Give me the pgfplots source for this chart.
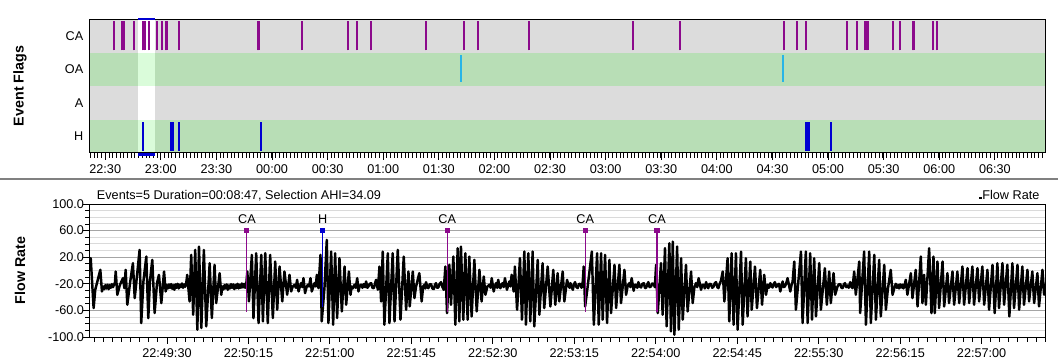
\documentclass[border=0pt]{standalone}
\usepackage{pgfplots}
\pgfplotsset{compat=1.18}
\usepackage{fontspec}
\setmainfont{Liberation Sans}
\definecolor{graybg}{RGB}{220,220,220}
\definecolor{greenbg}{RGB}{184,222,182}
\definecolor{selgreen}{RGB}{218,252,218}
\definecolor{cacol}{RGB}{140,10,140}
\definecolor{hcol}{RGB}{0,0,210}
\definecolor{oacol}{RGB}{40,180,230}
\definecolor{majgrid}{RGB}{165,165,165}
\definecolor{mingrid}{RGB}{218,218,218}
\definecolor{divcol}{RGB}{128,128,128}
\newcommand{\tf}{\fontsize{9.5}{11}\selectfont}
\newcommand{\lf}{\bfseries\fontsize{10.7}{12}\selectfont}
\begin{document}
\begin{tikzpicture}[font=\tf]
\path[use as bounding box] (0pt,0pt) rectangle (793.5pt,-271.5pt);
\draw[line width=1.5pt, divcol] (0pt,-134.2pt) -- (793.5pt,-134.2pt);
% ---------------- top panel: event flags ----------------
\begin{axis}[
  at={(67.5pt,-14.25pt)}, anchor=north west,
  scale only axis, width=716.25pt, height=100.5pt,
  xmin=22.363, xmax=30.951, ymin=0, ymax=4,
  axis on top,
  ytick={0.5,1.5,2.5,3.5}, yticklabels={H,A,OA,CA},
  ytick style={draw=none},
  yticklabel style={xshift=3.5pt},
  xtick={22.5,23,...,30.5},
  xticklabels={22:30,23:00,23:30,00:00,00:30,01:00,01:30,02:00,02:30,03:00,03:30,04:00,04:30,05:00,05:30,06:00,06:30},
  minor xtick={22.3667,22.4,...,30.95},
  xtick pos=bottom, ytick pos=left, tick align=outside,
  major tick length=5pt, minor tick length=3.5pt,
  tick style={black, line width=0.6pt},
  tick label style={font=\tf},
  axis line style={line width=0.75pt},
  ylabel={Event Flags},
  ylabel style={at={(axis description cs:-0.0733,0.5)}, anchor=center, font=\lf},
  unbounded coords=jump,
]
\fill[greenbg] (axis cs:22.363,0) rectangle (axis cs:30.951,1);
\fill[graybg]  (axis cs:22.363,1) rectangle (axis cs:30.951,2);
\fill[greenbg] (axis cs:22.363,2) rectangle (axis cs:30.951,3);
\fill[graybg]  (axis cs:22.363,3) rectangle (axis cs:30.951,4);
\fill[selgreen] (axis cs:22.797,0) rectangle (axis cs:22.950,1);
\fill[white]    (axis cs:22.797,1) rectangle (axis cs:22.950,2);
\fill[selgreen] (axis cs:22.797,2) rectangle (axis cs:22.950,3);
\fill[white]    (axis cs:22.797,3) rectangle (axis cs:22.950,4);
\coordinate (selTL) at (axis cs:22.797,4);
\coordinate (selTR) at (axis cs:22.950,4);
\coordinate (selBL) at (axis cs:22.797,0);
\coordinate (selBR) at (axis cs:22.950,0);
% CA events
\addplot[draw=cacol, line width=1.4pt] table {
22.579 3.06
22.579 3.94
22.579 nan
22.651 3.06
22.651 3.94
22.651 nan
22.669 3.06
22.669 3.94
22.669 nan
22.759 3.06
22.759 3.94
22.759 nan
22.840 3.06
22.840 3.94
22.840 nan
22.858 3.06
22.858 3.94
22.858 nan
22.891 3.06
22.891 3.94
22.891 nan
22.897 3.06
22.897 3.94
22.897 nan
22.966 3.06
22.966 3.94
22.966 nan
23.011 3.06
23.011 3.94
23.011 nan
23.050 3.06
23.050 3.94
23.050 nan
23.056 3.06
23.056 3.94
23.056 nan
23.164 3.06
23.164 3.94
23.164 nan
23.870 3.06
23.870 3.94
23.870 nan
23.880 3.06
23.880 3.94
23.880 nan
24.270 3.06
24.270 3.94
24.270 nan
24.681 3.06
24.681 3.94
24.681 nan
24.764 3.06
24.764 3.94
24.764 nan
24.890 3.06
24.890 3.94
24.890 nan
25.385 3.06
25.385 3.94
25.385 nan
25.727 3.06
25.727 3.94
25.727 nan
25.853 3.06
25.853 3.94
25.853 nan
26.311 3.06
26.311 3.94
26.311 nan
27.246 3.06
27.246 3.94
27.246 nan
27.669 3.06
27.669 3.94
27.669 nan
28.604 3.06
28.604 3.94
28.604 nan
28.721 3.06
28.721 3.94
28.721 nan
28.802 3.06
28.802 3.94
28.802 nan
29.171 3.06
29.171 3.94
29.171 nan
29.261 3.06
29.261 3.94
29.261 nan
29.333 3.06
29.333 3.94
29.333 nan
29.346 3.06
29.346 3.94
29.346 nan
29.357 3.06
29.357 3.94
29.357 nan
29.585 3.06
29.585 3.94
29.585 nan
29.647 3.06
29.647 3.94
29.647 nan
29.760 3.06
29.760 3.94
29.760 nan
29.770 3.06
29.770 3.94
29.770 nan
29.944 3.06
29.944 3.94
29.944 nan
29.980 3.06
29.980 3.94
29.980 nan
};
% OA events
\addplot[draw=oacol, line width=1.2pt] table {
25.700 2.12
25.700 2.94
25.700 nan
28.595 2.12
28.595 2.94
28.595 nan
};
% H events
\addplot[draw=hcol, line width=1.4pt] table {
22.843 0.06
22.843 0.94
22.843 nan
23.094 0.06
23.094 0.94
23.094 nan
23.107 0.06
23.107 0.94
23.107 nan
23.166 0.06
23.166 0.94
23.166 nan
23.904 0.06
23.904 0.94
23.904 nan
28.800 0.06
28.800 0.94
28.800 nan
28.806 0.06
28.806 0.94
28.806 nan
28.823 0.06
28.823 0.94
28.823 nan
28.829 0.06
28.829 0.94
28.829 nan
29.027 0.06
29.027 0.94
29.027 nan
};
\end{axis}
\draw[hcol, line width=2.2pt] (selTL) -- (selTR);
\draw[hcol, line width=2.2pt] ([yshift=-1pt]selBL) -- ([yshift=-1pt]selBR);
% ---------------- bottom panel: flow rate ----------------
\begin{axis}[
  name=flow,
  at={(67.5pt,-153pt)}, anchor=north west,
  scale only axis, width=716.25pt, height=99.75pt,
  xmin=47.5, xmax=575, ymin=-100, ymax=100,
  ytick={-100,-60,-20,20,60,100},
  yticklabels={-100.0,-60.0,-20.0,20.0,60.0,100.0},
  yticklabel style={xshift=4pt},
  minor ytick={-90,-80,-70,-50,-40,-30,-10,0,10,30,40,50,70,80,90},
  ymajorgrids, yminorgrids,
  major grid style={majgrid, line width=0.75pt},
  minor grid style={mingrid, line width=0.75pt},
  xtick={90,135,180,225,270,315,360,405,450,495,540},
  xticklabels={22:49:30,22:50:15,22:51:00,22:51:45,22:52:30,22:53:15,22:54:00,22:54:45,22:55:30,22:56:15,22:57:00},
  minor xtick={50,55,...,575},
  xtick pos=bottom, ytick pos=left, tick align=outside,
  major tick length=5pt, minor tick length=3.5pt,
  tick style={black, line width=0.6pt},
  tick label style={font=\tf},
  axis line style={line width=0.75pt},
  ylabel={Flow Rate},
  ylabel style={at={(axis description cs:-0.0733,0.5)}, anchor=center, font=\lf},
  clip=true,
]
\addplot[black, line width=1.85pt, line join=round] table {
47.6 16
47.9 18.5
49.5 -56.5
50.4 -29
53.2 1
54.1 -31.5
54.8 -24
55.4 -28
56.0 -22
56.6 -27
57.2 -21.5
57.8 -28
58.4 -22
59.0 -26
59.6 -20.5
60.2 -25
60.8 -21
61.3 -18
61.7 -1.5
62.6 -36.5
63.9 -22.5
65.7 -11.5
66.5 -26.5
67.2 1
68.1 -51.5
69.6 -19
71.2 11
72.2 -41.5
74.9 31
75.8 -79
77.0 -16.5
78.6 21
79.7 -71.5
80.6 -16.5
81.9 16
83.2 -64
84.5 -19
85.6 -6.5
86.9 -49
88.4 -1.5
89.3 -31.5
89.9 -22
90.5 -27
91.1 -21
91.7 -26
92.3 -20.5
92.9 -27.5
93.5 -22
94.1 -29
94.7 -21
95.3 -26
95.9 -20
96.5 -27
97.1 -21.5
97.7 -25
98.3 -19.5
98.9 -26
99.5 -21
100.1 -24.5
100.7 -18
101.2 -6.5
102.5 -46.5
103.4 23.5
104.5 -66.5
105.6 31
106.8 -89
107.7 36
109.0 -86.5
110.4 31
111.7 -84
113.6 11
114.8 -71.5
116.3 8.5
117.2 -49
119.1 -4
120.0 -36.5
120.6 -24
121.2 -28.5
121.8 -22
122.4 -27
123.0 -21
123.6 -29
124.2 -22.5
124.8 -27
125.4 -20.5
126.0 -26
126.6 -21
127.2 -28
127.8 -22
128.4 -26.5
129.0 -20
129.6 -27
130.2 -21.5
130.8 -26
131.4 -19.5
132.0 -25.5
132.6 -20
133.2 -26
133.8 -21
134.4 -1.5
135.3 -46.5
136.9 23.5
137.8 -71.5
139.3 26
140.6 -79
142.1 23.5
143.0 -76.5
144.3 26
145.7 -79
147.0 23.5
148.5 -71.5
149.8 13.5
150.9 -59
152.2 6
153.7 -46.5
154.9 -1.5
156.4 -36.5
157.7 -6.5
158.6 -31.5
159.5 -24
160.5 -21.5
161.2 -26
161.9 -14
162.7 -31.5
163.4 -24
164.1 -19
164.8 -25
165.4 -11.5
166.3 -34
167.0 -26
167.8 -21.5
168.5 -24
169.3 -11.5
170.0 -31.5
170.8 -25
171.5 -19
172.2 -24
172.8 -6.5
173.7 -26.5
174.8 23.5
175.5 -76.5
177.0 -26.5
178.3 46
179.2 -79
180.7 28.5
181.8 -81.5
182.9 26
184.0 -71.5
185.3 18.5
186.6 -61.5
188.1 6
189.0 -51.5
190.5 -1.5
191.4 -36.5
192.0 -24
192.6 -27
193.6 -21.5
194.3 -26
195.1 -11.5
195.8 -31.5
196.5 -23
197.3 -21.5
198.0 -26
198.7 -20.5
199.4 -25
200.0 -16.5
200.7 -26
201.3 -24
202.0 -20
202.8 -19
203.5 -26
204.3 -26.5
204.9 -20
205.5 -14
206.5 -29
207.4 6
208.3 -46.5
209.2 28.5
210.1 -81.5
212.0 26
212.9 -79
214.7 26
215.7 -76.5
217.5 31
219.0 -74
220.8 21
222.1 -59
223.4 -1.5
224.1 -54
225.8 -1.5
226.7 -41.5
227.6 -24
229.4 -4
230.7 -46.5
231.5 -24
232.2 -21.5
232.7 -27
233.1 -17.5
233.8 -25
234.4 -26.5
235.1 -21
235.9 -20.5
236.6 -27
237.4 -28
238.0 -22
238.6 -19
239.3 -26
239.9 -25.5
240.6 -20
241.4 -17.5
242.2 -25
242.9 -29
243.8 6
244.7 -64
246.0 8.5
246.9 -51.5
248.2 21
249.3 -81.5
250.6 33.5
251.5 -76.5
252.4 36
253.7 -74
254.8 26
256.1 -74
257.0 21
258.3 -69
259.8 16
261.1 -61.5
262.6 1
263.8 -46.5
265.0 -9
265.9 -36.5
267.0 -24
268.1 -21.5
268.8 -26
269.4 -11.5
270.5 -31.5
271.2 -23
271.8 -19
272.4 -26
273.0 -14
273.6 -25
274.2 -26.5
274.8 -21
275.4 -19
276.0 -25
276.7 -11.5
277.8 -29
278.5 -22
279.1 -16.5
279.7 -24
280.4 -6.5
281.5 -31.5
282.2 6
283.4 -59
285.0 18.5
286.1 -74
287.4 28.5
288.3 -81.5
289.6 26
290.7 -76.5
292.0 28.5
292.9 -84
294.8 16
295.7 -66.5
297.5 11
298.4 -56.5
300.3 6
301.8 -54
303.4 1
304.5 -51.5
305.8 -4
306.7 -46.5
308.6 -1.5
309.5 -46.5
311.0 -14
311.8 -22.5
312.4 -26
312.9 -19
313.6 -25
314.2 -29
314.8 -21
315.4 -17.5
316.2 -25
316.9 -26.5
317.6 -20
318.4 -20.5
319.0 -26
319.7 -16.5
320.2 6
321.0 -54
322.4 -24
324.7 28.5
325.8 -81.5
327.6 26
328.5 -81.5
329.8 26
330.7 -74
332.0 23.5
333.1 -79
334.4 16
335.3 -64
337.2 8.5
338.1 -56.5
339.9 8.5
340.8 -49
342.7 1
343.6 -36.5
344.5 -23
345.4 -19
346.0 -25
346.7 -11.5
347.8 -30.5
348.4 -22
349.1 -21.5
349.8 -26
350.4 -17.5
351.1 -24
351.9 -25.5
352.6 -20
353.4 -19
354.0 -26
354.6 -26.5
355.3 -21
355.9 -17.5
356.6 -25
357.4 -24
358.1 -19.5
358.9 -20.5
359.5 -25
360.2 8.5
361.1 -64
362.9 11
363.8 -66.5
365.1 33.5
366.0 -84
367.5 41
368.4 -91.5
369.4 43.5
370.3 -96.5
371.8 36
372.7 -89
374.0 18.5
374.9 -74
376.7 8.5
377.6 -61.5
379.5 -1.5
380.4 -49
381.3 -26
382.2 -19
382.9 -25
383.7 -11.5
385.0 -29
385.7 -22
386.5 -21.5
387.1 -27
387.8 -17.5
388.4 -24
389.0 -26.5
389.7 -20
390.5 -20.5
391.2 -26
392.0 -24
392.6 -19
393.3 -17.5
394.0 -25
394.6 -26.5
395.3 -20
396.0 -15.5
397.0 -1.5
397.9 -46.5
399.7 18.5
400.6 -76.5
401.9 26
403.0 -81.5
404.3 26
405.2 -89
407.1 28.5
408.0 -81.5
409.8 18.5
410.7 -69
412.2 13.5
413.0 -59
414.8 6
415.9 -56.5
417.7 1
418.7 -51.5
419.9 -6.5
420.9 -36.5
421.8 -21.5
422.5 -26
423.3 -19
423.9 -24
424.5 -25.5
425.2 -20
425.8 -17.5
426.5 -25
427.3 -21.5
428.0 -20
428.8 -31.5
429.5 -23
430.1 -16.5
430.7 -25
431.3 -24
432.0 -20
432.8 -11.5
434.3 -31.5
435.0 -22
435.6 -16.5
436.5 13.5
437.4 -59
440.2 28.5
441.1 -79
442.9 28.5
443.9 -79
445.3 26
446.3 -74
447.5 18.5
448.5 -69
450.3 11
451.2 -59
453.4 3.5
454.5 -51.5
455.8 -1.5
456.7 -49
458.2 -4
459.1 -36.5
460.4 -24
461.1 -21
461.9 -20.5
462.6 -26
463.2 -26.5
463.9 -21
464.5 -19
465.2 -25
465.9 -22.5
466.6 -26
467.4 -17.5
468.0 -24
468.7 -26.5
469.6 -1.5
470.5 -36.5
472.4 13.5
472.9 -64
475.1 28.5
476.1 -81.5
477.9 28.5
478.8 -79
480.7 23.5
481.6 -74
483.4 16
484.3 -69
486.2 8.5
487.1 -59
488.2 -28
489.8 1
490.8 -36.5
492.0 -24
492.6 -20
493.2 -26
493.8 -22
494.4 -27
495.0 -21
495.6 -25.5
496.3 -21.5
496.8 -27
497.4 -23
498.1 -14
499.0 -36.5
500.9 -4
501.8 -41.5
503.6 1
504.6 -54
506.4 21
507.3 -49
508.2 -6.5
509.2 -51.5
511.0 33.5
512.3 -64
513.4 21
514.1 -64
515.6 13.5
516.5 -56.5
518.4 13.5
519.3 -54
521.1 -4
522.0 -49
523.9 -1.5
524.8 -51.5
526.6 -1.5
527.6 -49
529.4 6
530.3 -51.5
532.2 3.5
533.1 -49
534.9 6
535.8 -51.5
537.7 3.5
538.6 -46.5
540.4 6
541.4 -51.5
543.2 1
544.1 -59
546.0 8.5
547.2 -64
548.7 11
549.6 -56.5
551.5 11
552.4 -51.5
554.2 8.5
555.3 -69
557.0 11
557.9 -56.5
559.8 8.5
560.7 -59
562.5 6
563.4 -51.5
565.3 1
566.2 -46.5
568.0 -1.5
569.0 -49
570.8 -4
571.7 -54
573.6 1
574.5 -36.5
575.0 -20
};
% event markers
\addplot[cacol, line width=0.8pt, mark=square*, mark size=1.5pt, mark indices={1}] coordinates {(134.2,60) (134.2,-63)} node[pos=0, above=1.5pt, black, font=\tf] {CA};
\addplot[hcol, line width=0.8pt, mark=square*, mark size=1.5pt, mark indices={1}] coordinates {(176.0,60) (176.0,-55)} node[pos=0, above=1.5pt, black, font=\tf] {H};
\addplot[cacol, line width=0.8pt, mark=square*, mark size=1.5pt, mark indices={1}] coordinates {(244.8,60) (244.8,-63)} node[pos=0, above=1.5pt, black, font=\tf] {CA};
\addplot[cacol, line width=0.8pt, mark=square*, mark size=1.5pt, mark indices={1}] coordinates {(321.0,60) (321.0,-63)} node[pos=0, above=1.5pt, black, font=\tf] {CA};
\addplot[cacol, line width=0.8pt, mark=square*, mark size=1.5pt, mark indices={1}] coordinates {(360.7,60) (360.7,-63)} node[pos=0, above=1.5pt, black, font=\tf] {CA};
\end{axis}
\node[anchor=base west, inner sep=0pt, font=\tf] at ([xshift=5pt,yshift=3.5pt]flow.north west) {Events=5 Duration=00:08:47, Selection AHI=34.09};
\node[anchor=base east, inner sep=0pt, font=\tf] at ([xshift=-4pt,yshift=3.5pt]flow.north east) {\rule{2.2pt}{1.8pt}Flow Rate};
\end{tikzpicture}
\end{document}
